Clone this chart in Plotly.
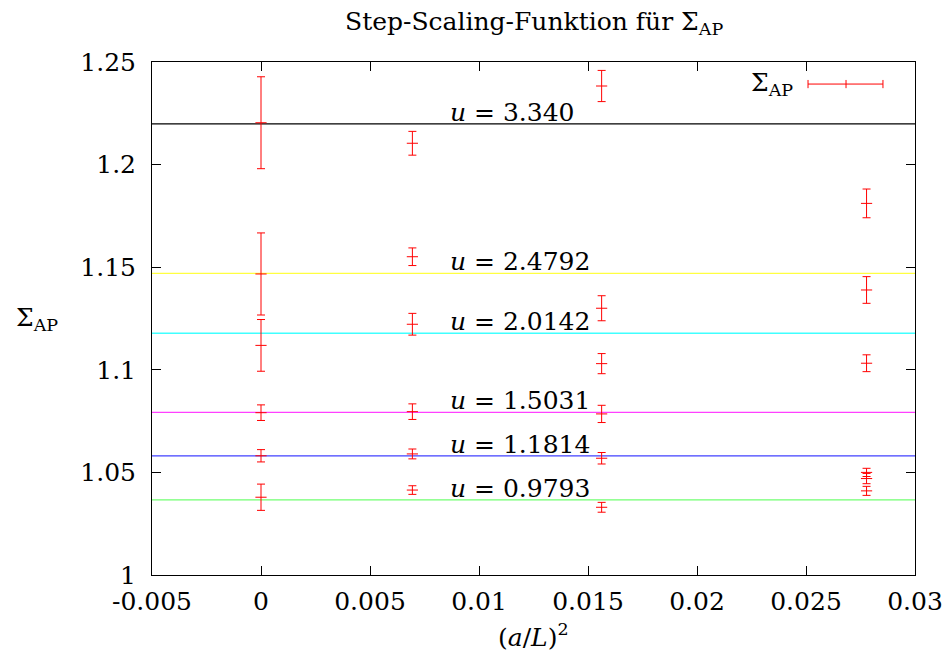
import plotly.graph_objects as go

# ---- data ----
x_points = [0.0]*6 + [1/144]*6 + [1/64]*6 + [1/36]*6
sigma = [1.2204, 1.1467, 1.1119, 1.0791, 1.0581, 1.0379,
         1.2104, 1.1551, 1.1222, 1.0796, 1.0590, 1.0414,
         1.2383, 1.1300, 1.1030, 1.0785, 1.0569, 1.0330,
         1.1811, 1.1389, 1.1032, 1.0500, 1.0470, 1.0410]
sigma_err = [0.0224, 0.0200, 0.0126, 0.0038, 0.0030, 0.0064,
             0.0058, 0.0043, 0.0053, 0.0038, 0.0024, 0.0021,
             0.0076, 0.0061, 0.0049, 0.0042, 0.0028, 0.0024,
             0.0070, 0.0065, 0.0041, 0.0020, 0.0025, 0.0022]

u_labels = ["3.340", "2.4792", "2.0142", "1.5031", "1.1814", "0.9793"]
u_levels = [1.2198, 1.1470, 1.1178, 1.0793, 1.0581, 1.0366]
u_colors = ["#000000", "#ffff40", "#40ffff", "#ff40ff", "#4040ff", "#70ff70"]

x_range = [-0.005, 0.03]
y_range = [1.0, 1.25]
x_ticks = [-0.005, 0, 0.005, 0.01, 0.015, 0.02, 0.025, 0.03]
x_ticktext = ["-0.005", "0", "0.005", "0.01", "0.015", "0.02", "0.025", "0.03"]
y_ticks = [1.0, 1.05, 1.1, 1.15, 1.2, 1.25]
y_ticktext = ["1", "1.05", "1.1", "1.15", "1.2", "1.25"]

FONT = "DejaVu Serif"

fig = go.Figure()

for lvl, col in zip(u_levels, u_colors):
    fig.add_trace(go.Scatter(x=x_range, y=[lvl, lvl], mode="lines",
                             line=dict(color=col, width=1.3),
                             showlegend=False, hoverinfo="skip"))

fig.add_trace(go.Scatter(
    x=x_points, y=sigma, mode="markers",
    marker=dict(symbol="line-ew", size=8, color="red",
                line=dict(color="red", width=1)),
    error_y=dict(type="data", array=sigma_err, visible=True,
                 color="red", thickness=1, width=4),
    showlegend=False))

for lbl, lvl in zip(u_labels, u_levels):
    fig.add_annotation(x=0.00858, y=lvl, xref="x", yref="y",
                       text="<i>u</i> = " + lbl, showarrow=False,
                       xanchor="left", yanchor="bottom", yshift=-5,
                       font=dict(family=FONT, size=25, color="black"))

# title & axis titles
fig.add_annotation(text="Step-Scaling-Funktion für Σ<sub>AP</sub>",
                   xref="paper", yref="paper", x=0.5, y=1.0, yshift=39,
                   xanchor="center", yanchor="middle", showarrow=False,
                   font=dict(family=FONT, size=25, color="black"))
fig.add_annotation(text="Σ<sub>AP</sub>", xref="paper", yref="paper",
                   x=0, xshift=-115, y=0.5, xanchor="center", yanchor="middle",
                   showarrow=False, font=dict(family=FONT, size=25, color="black"))
fig.add_annotation(text="(<i>a</i>/<i>L</i>)<sup>2</sup>", xref="paper", yref="paper",
                   x=0.5, y=0, yshift=-60, xanchor="center", yanchor="middle",
                   showarrow=False, font=dict(family=FONT, size=25, color="black"))

# custom legend (text left, sample right, gnuplot style)
fig.add_annotation(text="Σ<sub>AP</sub>", xref="paper", yref="paper",
                   x=0.8427, y=0.957, xanchor="right", yanchor="middle",
                   showarrow=False, font=dict(family=FONT, size=25, color="black"))
lx0, lx1, lxc, ly, cap = 0.8598, 0.958, 0.9096, 0.957, 0.008
for sh in [dict(x0=lx0, x1=lx1, y0=ly, y1=ly),
           dict(x0=lx0, x1=lx0, y0=ly-cap, y1=ly+cap),
           dict(x0=lx1, x1=lx1, y0=ly-cap, y1=ly+cap),
           dict(x0=lxc, x1=lxc, y0=ly-cap, y1=ly+cap)]:
    fig.add_shape(type="line", xref="paper", yref="paper",
                  line=dict(color="red", width=1), **sh)

axis_common = dict(showline=True, linecolor="black", linewidth=1, mirror="allticks",
                   ticks="inside", ticklen=9, tickcolor="black", showgrid=False,
                   zeroline=False, automargin=False,
                   tickfont=dict(family=FONT, size=25, color="black"))
fig.update_xaxes(range=x_range, tickvals=x_ticks, ticktext=x_ticktext,
                 ticklabelstandoff=4, **axis_common)
fig.update_yaxes(range=y_range, tickvals=y_ticks, ticktext=y_ticktext,
                 ticklabelstandoff=10, **axis_common)

fig.update_layout(width=948, height=659, plot_bgcolor="white", paper_bgcolor="white",
                  margin=dict(l=152, r=33, t=62, b=84, autoexpand=False),
                  showlegend=False)

fig.write_html("out.html")
